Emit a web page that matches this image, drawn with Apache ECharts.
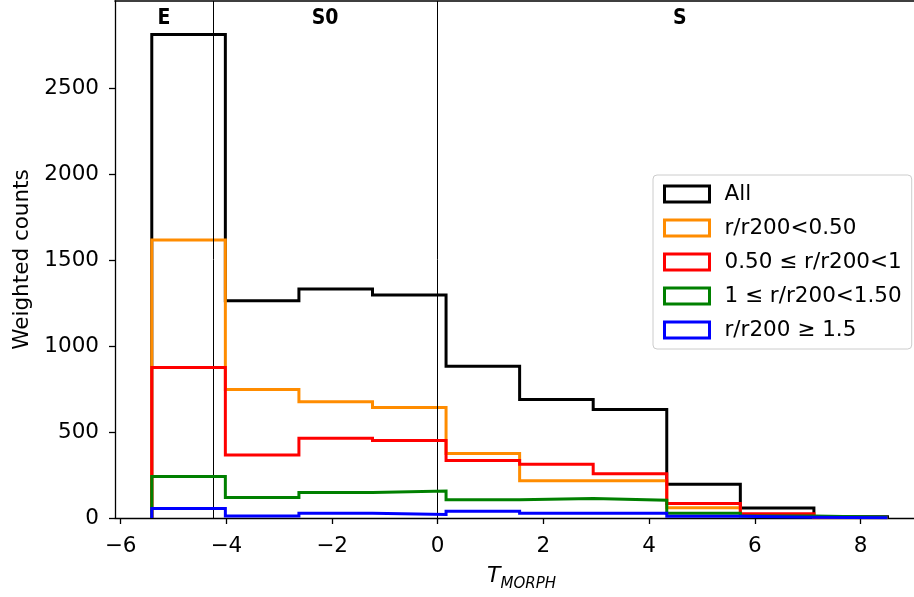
<!DOCTYPE html>
<html>
<head>
<meta charset="utf-8">
<script src="https://cdn.jsdelivr.net/npm/echarts@6/dist/echarts.min.js"></script>
<style>
html,body{margin:0;padding:0;background:#fff;}
#chart{width:914px;height:597px;}
</style>
</head>
<body>
<div id="chart"></div>
<script>
// Histogram bin edges (T_MORPH)
const binEdges = [-5.41, -4.018, -2.626, -1.234, 0.158, 1.55, 2.942, 4.334, 5.726, 7.118, 8.51];
// Weighted counts per bin
const countsAll   = [2815, 1265, 1333, 1298, 884, 690, 632, 197, 58, 8];
const countsR050  = [1618, 748, 677, 644, 375, 217, 217, 60, 18, 2];
const countsR1    = [876, 367, 464, 451, 335, 313, 257, 84, 25, 3];
const countsR150  = [242, 120, 149, 157, 106, 113, 104, 28, 12, 4];
const countsOut   = [56, 12, 27, 21, 39, 27, 27, 10, 4, 1];
const seriesNames = ['All', 'r/r200<0.50', '0.50 \u2264 r/r200<1', '1 \u2264 r/r200<1.50', 'r/r200 \u2265 1.5'];
const seriesColors = ['#000000', '#ff8c00', '#ff0000', '#008000', '#0000ff'];
const xTicks = [-6, -4, -2, 0, 2, 4, 6, 8];
const yTicks = [0, 500, 1000, 1500, 2000, 2500];
const dividerX = [-4.25, 0];
const classNames = ['E', 'S0', 'S'];
const classX = [-5.18, -2.13, 4.58];
const classY = 2906;

const FONT = '"DejaVu Sans", sans-serif';
const FS = 21.5;
const X_MIN = -6.106, X_MAX = 9.012;

function stepPoints(counts) {
  const pts = [[binEdges[0], 0]];
  for (let i = 0; i < counts.length; i++) {
    pts.push([binEdges[i], counts[i]]);
    pts.push([binEdges[i + 1], counts[i]]);
  }
  pts.push([binEdges[binEdges.length - 1], 0]);
  return pts;
}

const allCounts = [countsAll, countsR050, countsR1, countsR150, countsOut];

const series = allCounts.map((c, i) => ({
  name: seriesNames[i],
  type: 'line',
  data: stepPoints(c),
  showSymbol: false,
  symbol: 'none',
  color: seriesColors[i],
  itemStyle: { color: seriesColors[i] },
  lineStyle: { color: seriesColors[i], width: 3, join: 'miter', cap: 'butt' },
  animation: false,
  silent: true,
  z: 3 + i
}));

series[0].markLine = {
  silent: true,
  symbol: ['none', 'none'],
  animation: false,
  label: { show: false },
  lineStyle: { color: '#000', width: 1, type: 'solid' },
  data: dividerX.map(x => ({ xAxis: x }))
};
series[0].markPoint = {
  silent: true,
  animation: false,
  symbol: 'rect',
  symbolSize: 0,
  label: {
    show: true,
    position: 'inside',
    formatter: p => p.name,
    fontFamily: '"Liberation Sans Narrow", "DejaVu Sans Condensed", sans-serif',
    fontWeight: 'bold',
    fontSize: 21,
    color: '#000'
  },
  data: classNames.map((n, i) => ({ name: n, coord: [classX[i], classY] }))
};

const chart = echarts.init(document.getElementById('chart'), null, { renderer: 'canvas' });
chart.setOption({
  animation: false,
  backgroundColor: '#fff',
  grid: { left: 115, top: 1, right: 0, bottom: 77 },
  legend: {
    orient: 'vertical',
    left: 653, top: 175,
    icon: 'rect',
    itemWidth: 45, itemHeight: 16,
    itemGap: 12,
    padding: [8, 10, 8, 10],
    backgroundColor: '#fff',
    borderColor: '#cccccc',
    borderWidth: 1,
    borderRadius: 4,
    textStyle: { fontFamily: FONT, fontSize: FS, color: '#000', lineHeight: 21, padding: [0, 0, 0, 10] },
    data: seriesNames.map((n, i) => ({
      name: n,
      icon: 'rect',
      itemStyle: { color: '#ffffff', borderColor: seriesColors[i], borderWidth: 3 }
    })),
    selectedMode: false
  },
  xAxis: [{
    type: 'value',
    min: X_MIN, max: X_MAX,
    splitLine: { show: false },
    axisLine: { show: true, onZero: false, lineStyle: { color: '#000', width: 1.3 } },
    axisTick: { show: true, customValues: xTicks, length: 6, lineStyle: { color: '#000', width: 1.3 } },
    axisLabel: {
      customValues: xTicks,
      formatter: v => String(v).replace('-', '\u2212'),
      fontFamily: FONT, fontSize: FS, color: '#000', margin: 17
    },
    name: '{t|T}{s|MORPH}',
    nameLocation: 'middle',
    nameGap: 47,
    nameTextStyle: {
      fontFamily: FONT,
      color: '#000',
      padding: [0, 0, 0, 14],
      rich: {
        t: { fontFamily: FONT, fontStyle: 'italic', fontSize: 22, color: '#000', verticalAlign: 'top', lineHeight: 24 },
        s: { fontFamily: FONT, fontStyle: 'italic', fontSize: 15, color: '#000', verticalAlign: 'top', lineHeight: 15, padding: [12, 0, 0, 0] }
      }
    }
  }, {
    type: 'value',
    position: 'top',
    min: X_MIN, max: X_MAX,
    splitLine: { show: false },
    axisLine: { show: true, onZero: false, lineStyle: { color: '#000', width: 1.6 } },
    axisTick: { show: false },
    axisLabel: { show: false }
  }],
  yAxis: {
    type: 'value',
    min: 0, max: 3010,
    splitLine: { show: false },
    axisLine: { show: true, onZero: false, lineStyle: { color: '#000', width: 1.3 } },
    axisTick: { show: true, customValues: yTicks, length: 6, lineStyle: { color: '#000', width: 1.3 } },
    axisLabel: {
      customValues: yTicks,
      formatter: v => String(v),
      fontFamily: FONT, fontSize: FS, color: '#000', margin: 16
    },
    name: 'Weighted counts',
    nameLocation: 'middle',
    nameGap: 79,
    nameTextStyle: { fontFamily: FONT, fontSize: FS, color: '#000' }
  },
  series: series
});
</script>
</body>
</html>
